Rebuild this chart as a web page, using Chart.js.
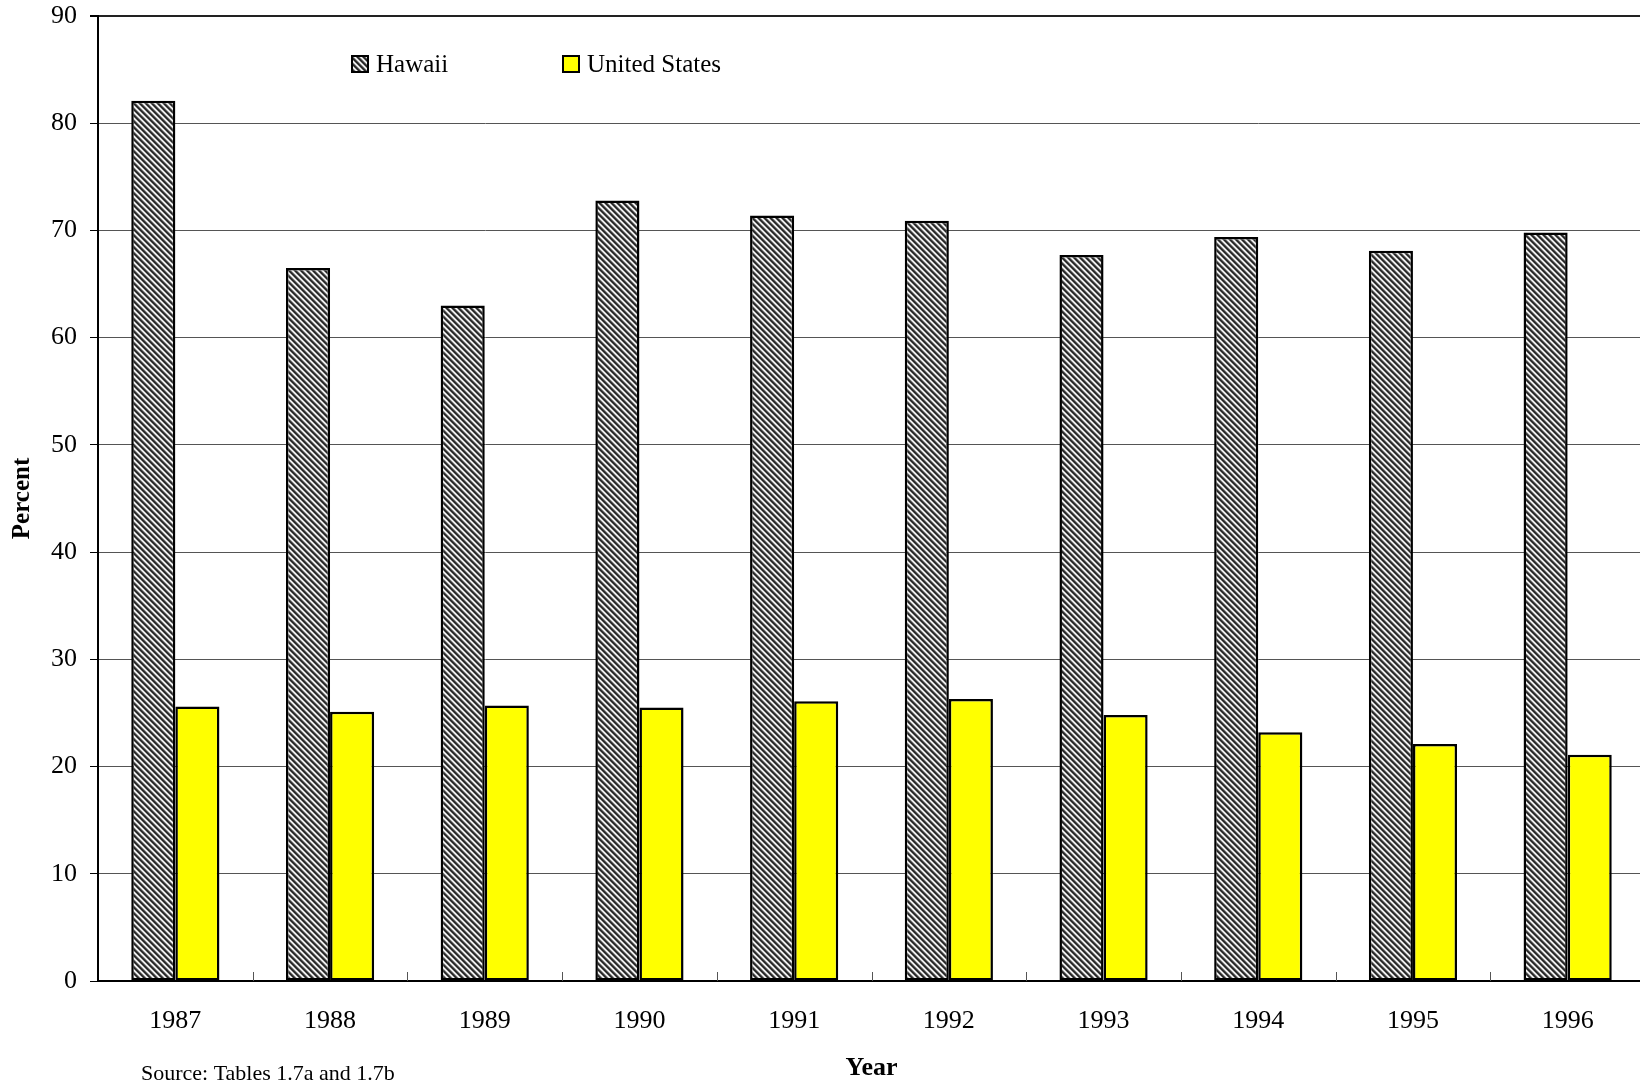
<!DOCTYPE html>
<html>
<head>
<meta charset="utf-8">
<script src="https://cdn.jsdelivr.net/npm/chart.js@4.4.1/dist/chart.umd.min.js"></script>
<style>
html,body{margin:0;padding:0;overflow:hidden;background:#fff;}
canvas{display:block;}
</style>
</head>
<body>
<canvas id="grafico" width="1645" height="1084"></canvas>
<script>
// Dados
const anos = ['1987','1988','1989','1990','1991','1992','1993','1994','1995','1996'];
const hawaii = [82.1, 66.5, 63.0, 72.8, 71.4, 70.9, 67.7, 69.4, 68.1, 69.8];
const estadosUnidos = [25.6, 25.1, 25.7, 25.5, 26.1, 26.3, 24.8, 23.2, 22.1, 21.1];
const nomesSeries = ['Hawaii', 'United States'];
const yMin = 0, yMax = 90, yPasso = 10;
const tituloX = 'Year';
const tituloY = 'Percent';
const textoFonte = 'Source: Tables 1.7a and 1.7b';

const serif = '"Liberation Serif", "Times New Roman", serif';

(function(){
    const canvas = document.getElementById('grafico');
    const ctx = canvas.getContext('2d');

    // hachura diagonal cinza/branco
    function criarHachura(){
        const c = document.createElement('canvas');
        c.width = 6; c.height = 6;
        const g = c.getContext('2d');
        const img = g.createImageData(6, 6);
        const tons = [35, 50, 110, 220, 250, 135];
        for (let y = 0; y < 6; y++) {
            for (let x = 0; x < 6; x++) {
                const v = tons[((x - y) % 6 + 6) % 6];
                const i = (y * 6 + x) * 4;
                img.data[i] = v; img.data[i+1] = v; img.data[i+2] = v; img.data[i+3] = 255;
            }
        }
        g.putImageData(img, 0, 0);
        return ctx.createPattern(c, 'repeat');
    }
    const hachura = criarHachura();

    // legenda fixa no canto, como no original
    const legendaFixa = {
        id: 'legendaFixa',
        afterDraw(chart){
            const c = chart.ctx;
            const xs = [351, 562];
            chart.data.datasets.forEach((ds, i) => {
                c.save();
                c.fillStyle = ds.backgroundColor;
                c.fillRect(xs[i], 55, 18, 18);
                c.lineWidth = 2;
                c.strokeStyle = '#000';
                c.strokeRect(xs[i] + 1, 56, 16, 16);
                c.fillStyle = '#000';
                c.font = '25px ' + serif;
                c.textBaseline = 'alphabetic';
                c.fillText(ds.label, xs[i] + 25, 72);
                c.restore();
            });
        }
    };

    // marcas internas do eixo x entre as categorias + texto da fonte
    const extras = {
        id: 'extras',
        afterDatasetsDraw(chart){
            const c = chart.ctx;
            const sx = chart.scales.x;
            const base = chart.chartArea.bottom;
            c.save();
            c.strokeStyle = '#555';
            c.lineWidth = 1;
            for (let i = 1; i <= anos.length; i++) {
                const xm = Math.round((sx.getPixelForValue(i - 1) + sx.getPixelForValue(i)) / 2) + 0.5;
                c.beginPath();
                c.moveTo(xm, base);
                c.lineTo(xm, base - 9);
                c.stroke();
            }
            c.restore();
        },
        afterDraw(chart){
            const c = chart.ctx;
            c.save();
            c.fillStyle = '#000';
            c.font = '22px ' + serif;
            c.textBaseline = 'alphabetic';
            c.fillText(textoFonte, 141, 1080);
            c.restore();
        }
    };

    new Chart(ctx, {
        type: 'bar',
        data: {
            labels: anos,
            datasets: [
                {label: nomesSeries[0], data: hawaii, backgroundColor: hachura, borderColor: '#000', borderWidth: 2.5, borderSkipped: false},
                {label: nomesSeries[1], data: estadosUnidos, backgroundColor: '#ffff00', borderColor: '#000', borderWidth: 2.5, borderSkipped: false}
            ]
        },
        options: {
            responsive: false,
            animation: false,
            devicePixelRatio: 1,
            layout: {padding: {top: 16, left: 0, right: 0, bottom: 0}},
            datasets: {bar: {categoryPercentage: 0.57, barPercentage: 1}},
            plugins: {legend: {display: false}, tooltip: {enabled: false}},
            scales: {
                x: {
                    offset: true,
                    grid: {display: false, drawTicks: false},
                    border: {display: true, color: '#000', width: 2},
                    ticks: {color: '#000', font: {family: serif, size: 26}, padding: 25, maxRotation: 0},
                    title: {display: true, text: tituloX, color: '#000', font: {family: serif, size: 26, weight: 'bold'}, padding: {top: 0, bottom: 0}},
                    afterFit(s){ s.height = 103; s.paddingLeft = 0; s.paddingRight = 0; }
                },
                y: {
                    min: yMin, max: yMax,
                    ticks: {stepSize: yPasso, color: '#000', font: {family: serif, size: 26}, padding: 13},
                    grid: {
                        color: c => c.tick && c.tick.value === yMax ? '#222' : '#555',
                        lineWidth: c => c.tick && c.tick.value === yMax ? 2 : 1,
                        tickLength: 8,
                        tickColor: '#000'
                    },
                    border: {display: true, color: '#000', width: 2},
                    title: {display: true, text: tituloY, color: '#000', font: {family: serif, size: 25, weight: 'bold'}, padding: {top: 8, bottom: 0}},
                    afterFit(s){ s.width = 98; s.paddingTop = 0; s.paddingBottom = 0; }
                }
            }
        },
        plugins: [legendaFixa, extras]
    });
})();
</script>
</body>
</html>
